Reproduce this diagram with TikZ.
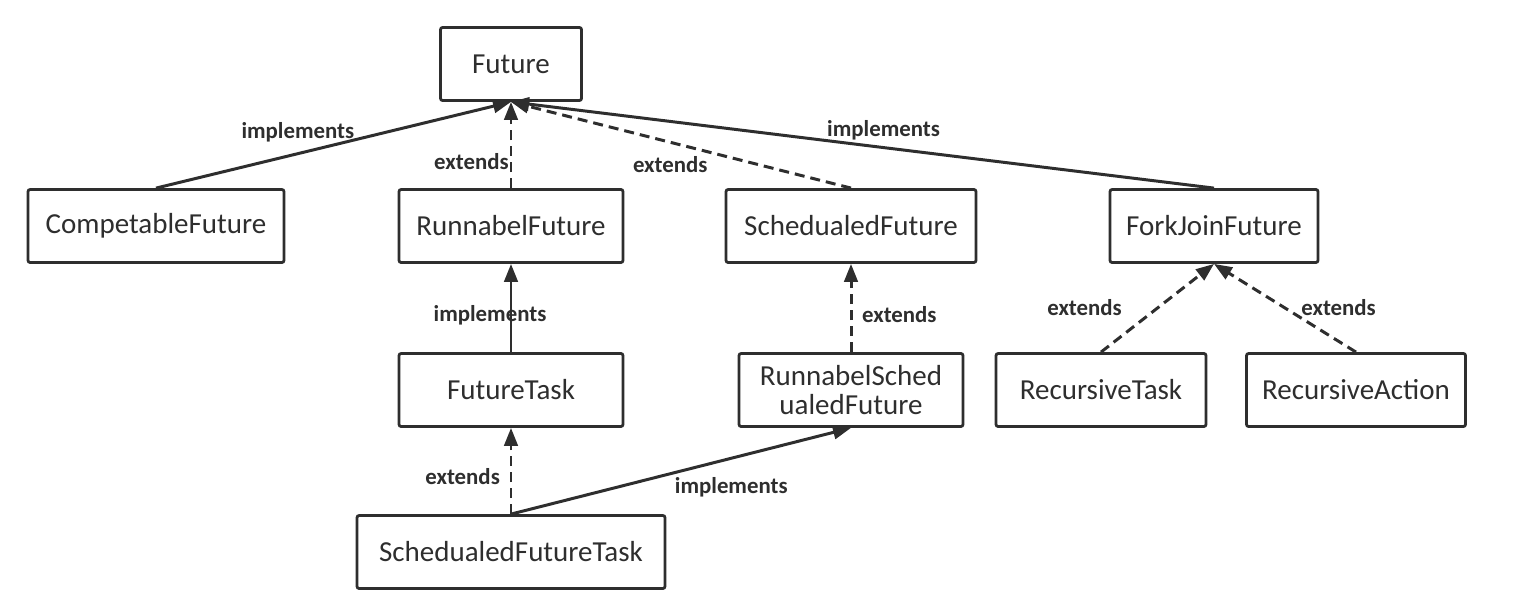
\documentclass[tikz,border=0pt]{standalone}
\usepackage{fontspec}
\setmainfont{Carlito}
\usepackage{tikz}
\usetikzlibrary{arrows.meta, positioning}
\definecolor{umlgray}{HTML}{2E2E2E}

\begin{document}
\begin{tikzpicture}[
    x=0.02cm, y=-0.02cm,
    cls/.style={draw=umlgray, text=umlgray, line width=1.6pt, rounded corners=1.2pt,
        minimum height=1.46cm, align=center, font=\fontsize{16.5}{18}\selectfont},
    impl/.style={-{Triangle[length=0.36cm, width=0.27cm]}, line width=1.7pt, umlgray},
    ext/.style={impl, dash pattern=on 0.2cm off 0.12cm},
    lbl/.style={text=umlgray, inner sep=1.5pt, font=\fontsize{13}{14}\selectfont\bfseries}
]
    \useasboundingbox (0,0) rectangle (1518,602);

    % Top interface
    \node[cls, minimum width=2.82cm] (future) at (511,64) {Future};

    % Second row
    \node[cls, minimum width=5.12cm] (competable) at (156,226) {CompetableFuture};
    \node[cls, minimum width=4.48cm] (runnable) at (511,226) {RunnabelFuture};
    \node[cls, minimum width=5.0cm] (scheduled) at (851,226) {SchedualedFuture};
    \node[cls, minimum width=4.16cm] (forkjoin) at (1214,226) {ForkJoinFuture};

    % Third row
    \node[cls, minimum width=4.48cm] (futuretask) at (511,390) {FutureTask};
    \node[cls, minimum width=4.48cm, inner ysep=1pt] (runsched) at (851,390) {RunnabelSched\\[-2pt]ualedFuture};
    \node[cls, minimum width=4.2cm] (rectask) at (1101,390) {RecursiveTask};
    \node[cls, minimum width=4.38cm] (recaction) at (1356,390) {RecursiveAction};

    % Bottom class
    \node[cls, minimum width=6.16cm] (schedtask) at (511,552) {SchedualedFutureTask};

    % Edges to Future
    \draw[impl] (competable.north) -- node[lbl, pos=0.57, anchor=south east, yshift=-4pt] {implements} (future.south);
    \draw[ext] (runnable.north) -- node[lbl, pos=0.31, left=-1pt] {extends} (future.south);
    \draw[ext] (scheduled.north) -- node[lbl, pos=0.41, anchor=north east] {extends} (future.south);
    \draw[impl] (forkjoin.north) -- node[lbl, pos=0.47, above=2pt] {implements} (future.south);

    % Middle edges
    \draw[impl] (futuretask.north) -- node[lbl, pos=0.42, xshift=-0.42cm] {implements} (runnable.south);
    \draw[ext] (runsched.north) -- node[lbl, pos=0.42, right=4pt] {extends} (scheduled.south);
    \draw[ext] (rectask.north) -- node[lbl, pos=0.5, left=18pt] {extends} (forkjoin.south);
    \draw[ext] (recaction.north) -- node[lbl, pos=0.5, right=7pt] {extends} (forkjoin.south);

    % Bottom edges
    \draw[ext] (schedtask.north) -- node[lbl, pos=0.44, left=4pt] {extends} (futuretask.south);
    \draw[impl] (schedtask.north) -- node[lbl, pos=0.47, anchor=north west] {implements} (runsched.south);

\end{tikzpicture}
\end{document}
